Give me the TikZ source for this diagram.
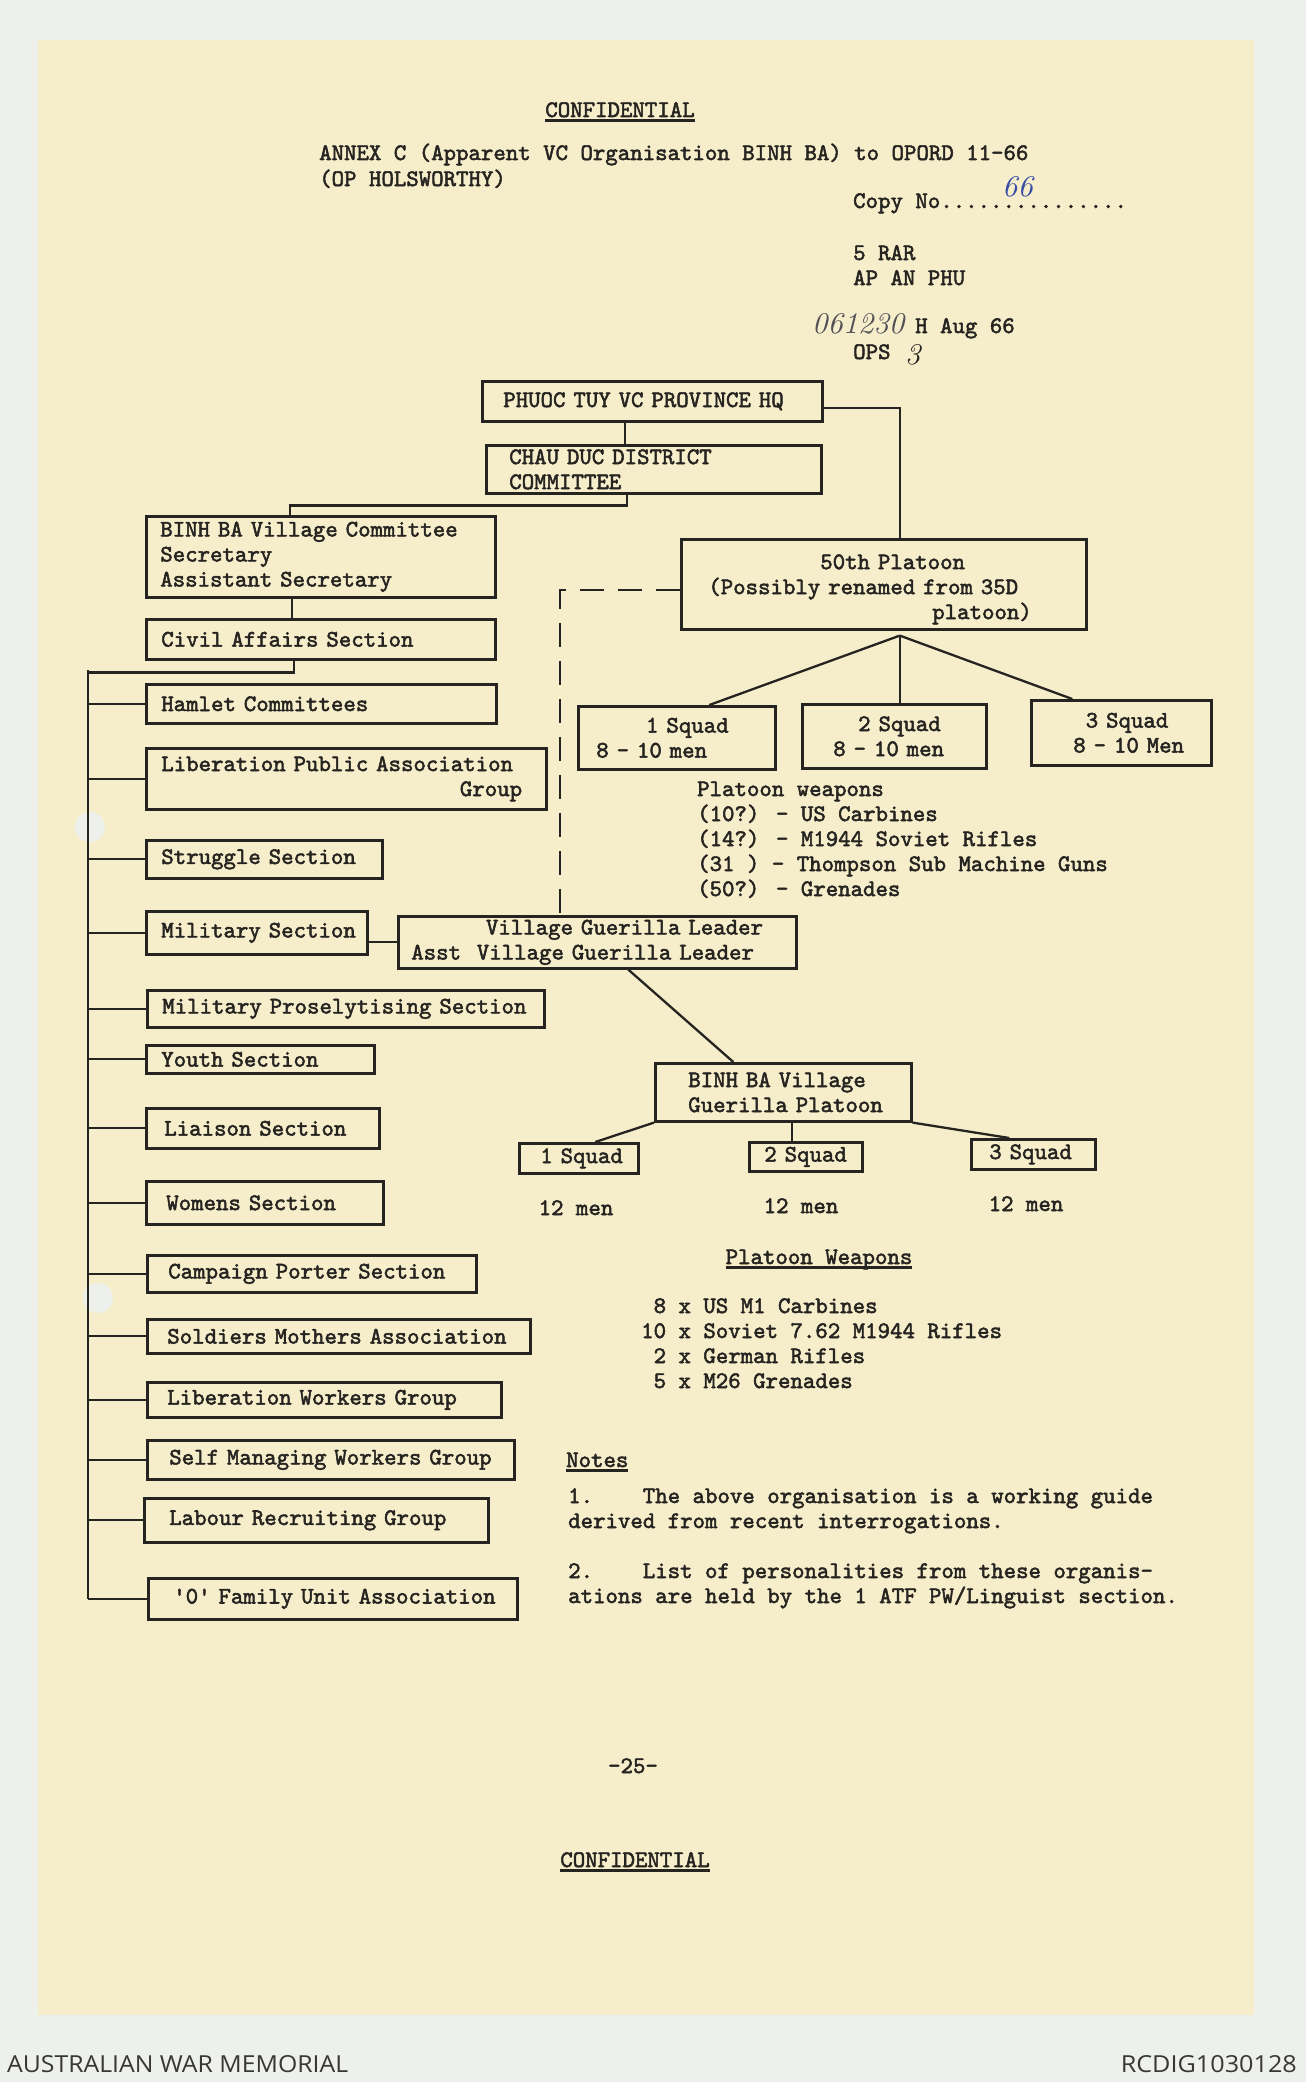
\documentclass[tikz,border=0pt]{standalone}
\usepackage{fontspec}
\usepackage{graphicx}
\usetikzlibrary{positioning, calc}
\definecolor{paper}{RGB}{246,237,203}
\definecolor{scanbg}{RGB}{238,240,236}
\definecolor{ink}{RGB}{38,36,32}
\definecolor{pencil}{RGB}{80,80,86}
\definecolor{penblue}{RGB}{55,75,165}
\definecolor{awmgray}{RGB}{55,55,55}
\newfontfamily\tw{lmmono10-regular.otf}[FakeBold=2.2]
\newfontfamily\hand{lmroman10-italic.otf}
\newfontfamily\awm{Open Sans}
\newcommand\twsize{\fontsize{23.7}{25}\selectfont}
\newcommand\pad[1]{\hspace*{\dimexpr 0.525em*#1\relax}}
\newcommand\typeul[1]{\leavevmode\setbox0=\hbox{#1}\rlap{\rule[-5pt]{\wd0}{2.6pt}}\box0}

\begin{document}
\begin{tikzpicture}[
  x=1pt, y=-1pt,
  font=\tw\twsize, text=ink,
  org/.style={draw=ink, line width=2.6pt, anchor=north west, inner sep=0pt,
              align=left, execute at begin node={\leftskip=#1}},
  org/.default=15pt,
  typed/.style={anchor=base west, inner sep=0pt, align=left},
  link/.style={draw=ink, line width=2.3pt},
  guide/.style={link, dash pattern=on 24pt off 14pt},
  scrawl/.style={anchor=base west, inner sep=0pt, font=\hand\fontsize{30}{30}\selectfont}
]
\useasboundingbox (0,0) rectangle (1306,2082);

% ---- Sheet ----
\fill[scanbg] (0,0) rectangle (1306,2082);
\fill[paper] (38,40) rectangle (1254,2015);
\fill[scanbg] (90,827) circle[radius=15pt];
\fill[scanbg] (98,1298) circle[radius=15pt];

% ---- Heading ----
\node[typed, anchor=base] (conf1) at (620,117) {\typeul{CONFIDENTIAL}};
\node[typed] (annex) at (319,160) {ANNEX C (Apparent VC Organisation BINH BA) to OPORD 11-66};
\node[typed] (opname) at (319,186) {(OP HOLSWORTHY)};
\node[typed] (copy) at (853,208) {Copy No...............};
\node[scrawl, text=penblue] (copyno) at (1002,196) {66};
\node[typed] (unit) at (853,260) {5 RAR};
\node[typed] (place) at (853,285) {AP AN PHU};
\node[scrawl, text=pencil] (dtg) at (812,333) {061230};
\node[typed] (month) at (915,333) {H Aug 66};
\node[typed] (ops) at (853,359) {OPS};
\node[scrawl] (opsno) at (905,364) {3};

% ---- Province and district ----
\node[org=21pt, text width=340pt, minimum height=40pt] (hq) at (481,380) {PHUOC TUY VC PROVINCE HQ};
\node[org=23pt, text width=335pt, minimum height=48pt] (dist) at (485,444) {CHAU DUC DISTRICT\\COMMITTEE};

% ---- Village committee and sections ----
\node[org=14pt, text width=349pt, minimum height=81pt] (vcom) at (145,515)
  {BINH BA Village Committee\\Secretary\\Assistant Secretary};
\node[org, text width=349pt, minimum height=40pt] (civil) at (145,618) {Civil Affairs Section};
\node[org, text width=350pt, minimum height=39pt] (hamlet) at (145,683) {Hamlet Committees};
\node[org, text width=400pt, minimum height=61pt] (libpub) at (145,747)
  {Liberation Public Association\\\pad{24}Group};
\node[org, text width=236pt, minimum height=38pt] (strug) at (145,839) {Struggle Section};
\node[org, text width=221pt, minimum height=43pt] (mil) at (145,910) {Military Section};
\node[org, text width=397pt, minimum height=37pt] (prosel) at (146,989) {Military Proselytising Section};
\node[org, text width=228pt, minimum height=28pt] (youth) at (145,1044) {Youth Section};
\node[org=18pt, text width=233pt, minimum height=40pt] (liais) at (145,1107) {Liaison Section};
\node[org=20pt, text width=237pt, minimum height=43pt] (women) at (145,1180) {Womens Section};
\node[org=21pt, text width=329pt, minimum height=37pt] (porter) at (146,1254) {Campaign Porter Section};
\node[org=20pt, text width=383pt, minimum height=34pt] (mothers) at (146,1318) {Soldiers Mothers Association};
\node[org=20pt, text width=354pt, minimum height=35pt] (libwork) at (146,1381) {Liberation Workers Group};
\node[org=22pt, text width=367pt, minimum height=39pt] (selfman) at (146,1439) {Self Managing Workers Group};
\node[org=25pt, text width=344pt, minimum height=44pt] (labour) at (143,1497) {Labour Recruiting Group};
\node[org=25pt, text width=369pt, minimum height=41pt] (family) at (147,1577)
  {\textquotesingle0\textquotesingle{} Family Unit Association};

% ---- 50th Platoon ----
\node[org=27pt, text width=405pt, minimum height=90pt] (p50) at (680,538)
  {\rule{0pt}{1.05em}\pad{9}50th Platoon\\(Possibly renamed from 35D\\\pad{18}platoon)};
\node[org=18pt, text width=197pt, minimum height=63pt] (sq1) at (577,705) {\pad{4}1 Squad\\8 - 10 men};
\node[org=31pt, text width=184pt, minimum height=64pt] (sq2) at (801,703) {\pad{2}2 Squad\\8 - 10 men};
\node[org=42pt, text width=180pt, minimum height=65pt] (sq3) at (1030,699) {\pad{1}3 Squad\\8 - 10 Men};
% base of a many-line text is its last line
\node[typed] (pwpn) at (697,896)
  {Platoon weapons\\(10?) - US Carbines\\(14?) - M1944 Soviet Rifles\\(31 ) - Thompson Sub Machine Guns\\(50?) - Grenades};

% ---- Village guerillas ----
\node[org=13pt, text width=398pt, minimum height=52pt] (vgl) at (397,915)
  {\pad{6}Village Guerilla Leader\\Asst~ Village Guerilla Leader};
\node[org=33pt, text width=256pt, minimum height=58pt] (gpl) at (654,1062) {BINH BA Village\\Guerilla Platoon};
\node[org=21pt, text width=119pt, minimum height=30pt] (gs1) at (518,1142) {1 Squad};
\node[org=15pt, text width=113pt, minimum height=29pt] (gs2) at (748,1141) {2 Squad};
\node[org=18pt, text width=124pt, minimum height=30pt] (gs3) at (970,1138) {3 Squad};
\node[typed, anchor=base] (men1) at (576,1215) {12 men};
\node[typed, anchor=base] (men2) at (801,1213) {12 men};
\node[typed, anchor=base] (men3) at (1026,1211) {12 men};
\node[typed, anchor=base] (gwpnt) at (819,1264) {\typeul{Platoon Weapons}};
\node[typed] (gwpn) at (641,1388)
  {\pad{1}8 x US M1 Carbines\\10 x Soviet 7.62 M1944 Rifles\\\pad{1}2 x German Rifles\\\pad{1}5 x M26 Grenades};

% ---- Notes ----
\node[typed] (notet) at (566,1467) {\typeul{Notes}};
\node[typed] (note1) at (568,1528)
  {1.\pad{4}The above organisation is a working guide\\derived from recent interrogations.};
\node[typed] (note2) at (568,1603)
  {2.\pad{4}List of personalities from these organis-\\ations are held by the 1 ATF PW/Linguist section.};

% ---- Foot of page ----
\node[typed, anchor=base] (page) at (633,1773) {-25-};
\node[typed, anchor=base] (conf2) at (635,1867) {\typeul{CONFIDENTIAL}};
\node[anchor=base west, inner sep=0pt, font=\awm, text=awmgray] (awm) at (7,2072)
  {\resizebox{341pt}{17pt}{AUSTRALIAN WAR MEMORIAL}};
\node[anchor=base east, inner sep=0pt, font=\awm, text=awmgray] (ref) at (1297,2072)
  {\resizebox{176pt}{17pt}{RCDIG1030128}};

% ---- Links ----
\coordinate (spine) at (88,670);
\coordinate (fork) at ([xshift=16pt, yshift=-5pt]p50.south);
\draw[link] ([xshift=-27pt]hq.south) -- ([xshift=-27pt]hq.south |- dist.north);
\draw[link] ([xshift=-26.5pt]dist.south) -- ++(0,11) -| ([xshift=-30.5pt]vcom.north);
\draw[link] ([xshift=-28.5pt]vcom.south) -- ([xshift=-28.5pt]vcom.south |- civil.north);
\draw[link] ([xshift=-26.5pt]civil.south) -- ++(0,12) -| (spine) -- (spine |- family.west);
\foreach \b in {hamlet,libpub,strug,mil,prosel,youth,liais,women,porter,mothers,libwork,selfman,labour,family}
  \draw[link] (spine |- \b.west) -- (\b.west);
\draw[link] (mil.east |- vgl.west) -- (vgl.west);

\draw[link] ([yshift=-7pt]hq.east) -| ([xshift=16.5pt]p50.north);
\draw[guide] ([yshift=-6pt]p50.west) -| ([xshift=-37pt]vgl.north);
\draw[link] (fork) -- ([xshift=32.5pt]sq1.north);
\draw[link] (fork) -- (fork |- sq2.north);
\draw[link] (fork) -- ([xshift=-49pt]sq3.north);

\draw[link] ([xshift=31pt]vgl.south) -- ([xshift=-50pt]gpl.north);
\draw[link] (gpl.south west) -- ([xshift=16.5pt]gs1.north);
\draw[link] ([xshift=9pt]gpl.south) -- ([xshift=9pt]gpl.south |- gs2.north);
\draw[link] (gpl.south east) -- ([xshift=-24pt]gs3.north);
\end{tikzpicture}
\end{document}
